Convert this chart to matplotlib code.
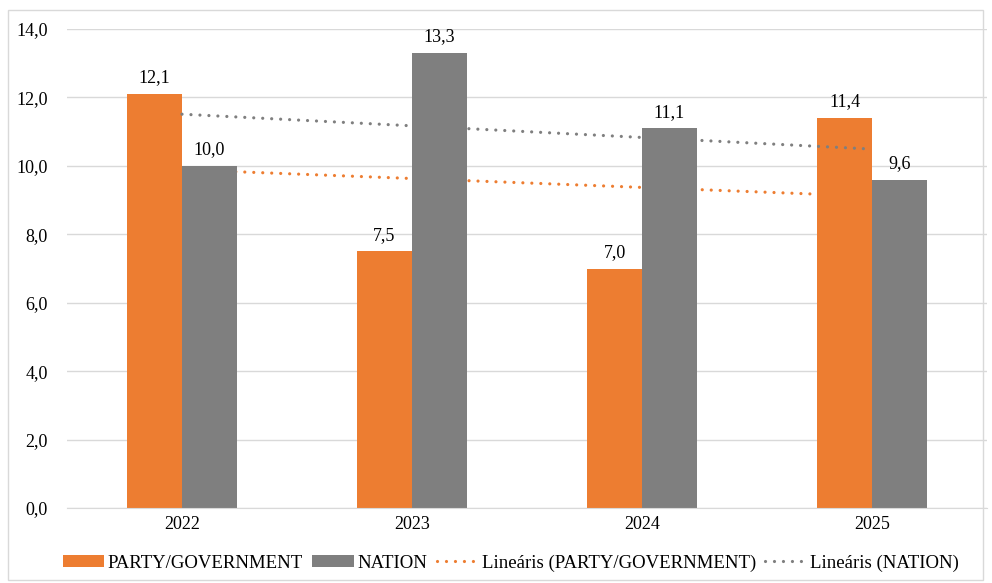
import numpy as np
import matplotlib.pyplot as plt
from matplotlib.patches import Rectangle

plt.rcParams['font.family'] = ['Liberation Serif', 'DejaVu Serif']

years = ['2022', '2023', '2024', '2025']
party = [12.1, 7.5, 7.0, 11.4]
nation = [10.0, 13.3, 11.1, 9.6]
yticks = [0, 2, 4, 6, 8, 10, 12, 14]

orange = '#ED7D31'
gray = '#7F7F7F'

fig = plt.figure(figsize=(9.92, 5.83), dpi=100)
ax = fig.add_axes([67/992, 1 - 508/583, 920/992, 479/583])

x = np.arange(len(years))
w = 0.239
b1 = ax.bar(x - w/2, party, w, color=orange, label='PARTY/GOVERNMENT', zorder=2)
b2 = ax.bar(x + w/2, nation, w, color=gray, label='NATION', zorder=2)

fs = 13
for xi, v in zip(x, party):
    ax.text(xi - w/2, v + 0.22, f'{v:.1f}'.replace('.', ','), ha='center', va='bottom', fontsize=fs)
for xi, v in zip(x, nation):
    ax.text(xi + w/2, v + 0.22, f'{v:.1f}'.replace('.', ','), ha='center', va='bottom', fontsize=fs)

# linear trend lines
p1 = np.polyfit(x, party, 1)
p2 = np.polyfit(x, nation, 1)
dots = (0, (0.01, 2.8))
l1, = ax.plot(x, np.polyval(p1, x), linestyle=dots, color=orange, lw=2.3,
              dash_capstyle='round', label='Lineáris (PARTY/GOVERNMENT)', zorder=1)
l2, = ax.plot(x, np.polyval(p2, x), linestyle=dots, color=gray, lw=2.3,
              dash_capstyle='round', label='Lineáris (NATION)', zorder=3)

ax.set_xlim(-0.5, 3.5)
ax.set_ylim(0, 14)
ax.set_yticks(yticks)
ax.set_yticklabels([f'{t:.1f}'.replace('.', ',') for t in yticks], fontsize=fs)
ax.set_xticks(x)
ax.set_xticklabels(years, fontsize=fs)
ax.grid(axis='y', color='#D9D9D9', lw=1, zorder=0)
ax.set_axisbelow(True)
for s in ['top', 'right', 'left']:
    ax.spines[s].set_visible(False)
ax.spines['bottom'].set_color('#D9D9D9')
ax.tick_params(length=0, pad=6)
ax.tick_params(axis='y', pad=14)

fig.legend(handles=[b1, b2, l1, l2], loc='center', bbox_to_anchor=(0.515, 1 - 563/583),
           ncol=4, frameon=False, fontsize=13.5, handlelength=2.2, handleheight=0.6,
           handletextpad=0.2, columnspacing=0.5)

fig.patches.append(Rectangle((8/992, 3/583), 975/992, 570/583, transform=fig.transFigure,
                             fill=False, edgecolor='#D9D9D9', lw=1))

plt.savefig('out.png', dpi=100)
